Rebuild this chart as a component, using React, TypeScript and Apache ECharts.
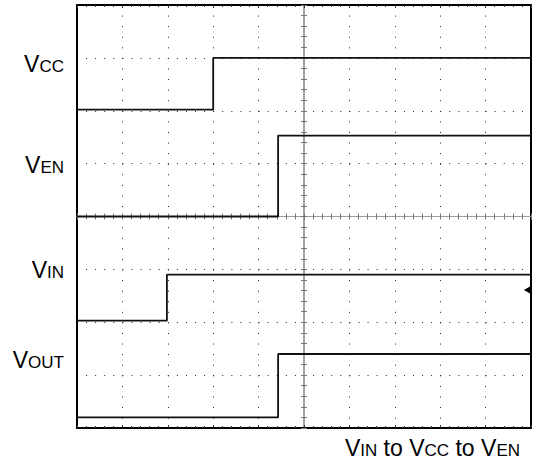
import React, { useEffect, useRef } from "react";
import * as echarts from "echarts";

// Oscilloscope graticule: 10 horizontal divisions (-5..5), 8 vertical divisions (-4..4)
const xMin = -5;
const xMax = 5;
const yMin = -4;
const yMax = 4;

// Trace break-points (x in divisions, y in divisions)
const vccX = [-5, -2.0, -2.0, 5];
const vccY = [2.02, 2.02, 3.0, 3.0];
const venX = [-5, -0.57, -0.57, 5];
const venY = [0.0, 0.0, 1.53, 1.53];
const vinX = [-5, -3.02, -3.02, 5];
const vinY = [-1.97, -1.97, -1.1, -1.1];
const voutX = [-5, -0.57, -0.57, 5];
const voutY = [-3.8, -3.8, -2.6, -2.6];

const markerPoint = [4.92, -1.39];

const traceNames = ["VCC", "VEN", "VIN", "VOUT"];

const pairs = (xs: number[], ys: number[]) => xs.map((x, i) => [x, ys[i]]);

const FONT = "Liberation Sans, Arial, sans-serif";
const BIG = 23;
const SMALL = 17;
const rich = {
  a: { fontSize: BIG, fontFamily: FONT, color: "#000", lineHeight: BIG, verticalAlign: "bottom" },
  b: { fontSize: SMALL, fontFamily: FONT, color: "#000", lineHeight: BIG, verticalAlign: "bottom" },
};

export default function App() {
  const ref = useRef<HTMLDivElement>(null);
  useEffect(() => {
    if (!ref.current) return;
    const chart = echarts.init(ref.current, undefined, { renderer: "svg" });

    const edgeX = (pos: string) => ({
      type: "value",
      min: xMin,
      max: xMax,
      interval: 1,
      position: pos,
      axisLine: { show: true, onZero: false, lineStyle: { color: "#000", width: 2 } },
      axisTick: { show: true, inside: true, length: 3, lineStyle: { color: "#333", width: 1 } },
      minorTick: { show: true, splitNumber: 5, length: 2, lineStyle: { color: "#333", width: 1 } },
      axisLabel: { show: false },
      splitLine: { show: false },
    });
    const edgeY = (pos: string) => ({
      type: "value",
      min: yMin,
      max: yMax,
      interval: 1,
      position: pos,
      axisLine: { show: true, onZero: false, lineStyle: { color: "#000", width: 2 } },
      axisTick: { show: false },
      axisLabel: { show: false },
      splitLine: { show: false },
    });
    const centerX = (inside: boolean) => ({
      type: "value",
      min: xMin,
      max: xMax,
      interval: 1,
      position: "bottom",
      axisLine: { show: true, onZero: true, onZeroAxisIndex: 0, lineStyle: { color: "#999", width: 1, type: [2, 1] } },
      axisTick: { show: true, inside, length: 3, lineStyle: { color: "#777", width: 1 } },
      minorTick: { show: true, splitNumber: 5, length: 3, lineStyle: { color: "#777", width: 1 } },
      axisLabel: { show: false },
      splitLine: { show: false },
    });
    const centerY = (inside: boolean) => ({
      type: "value",
      min: yMin,
      max: yMax,
      interval: 1,
      position: "left",
      axisLine: { show: true, onZero: true, onZeroAxisIndex: 0, lineStyle: { color: "#999", width: 1.5, type: [2, 1] } },
      axisTick: { show: true, inside, length: 3, lineStyle: { color: "#777", width: 1 } },
      minorTick: { show: true, splitNumber: 5, length: 3, lineStyle: { color: "#777", width: 1 } },
      axisLabel: { show: false },
      splitLine: { show: false },
    });

    const xs: any[] = [edgeX("bottom"), edgeX("top"), centerX(true), centerX(false)];
    xs[0].splitLine = { show: true, lineStyle: { color: "#222", width: 1, type: [1, 9.58] } };
    const ys: any[] = [edgeY("left"), edgeY("right"), centerY(true), centerY(false)];
    ys[0].splitLine = { show: true, lineStyle: { color: "#222", width: 1, type: [1, 8.08] } };

    const traces = [pairs(vccX, vccY), pairs(venX, venY), pairs(vinX, vinY), pairs(voutX, voutY)];

    const series: any[] = traces.map((d, i) => ({
      name: traceNames[i],
      type: "line",
      data: d,
      symbol: "none",
      lineStyle: { color: "#111", width: 1.8 },
      z: 5,
    }));
    series[2].markPoint = {
      symbol: "triangle",
      symbolRotate: 90,
      symbolSize: [8, 7],
      itemStyle: { color: "#000" },
      label: { show: false },
      data: [{ coord: markerPoint }],
    };

    const label = (parts: string, x: number, y: number, align: string) => ({
      type: "text",
      x,
      y,
      style: { text: parts, rich, align, verticalAlign: "bottom", fill: "#000" },
    });

    chart.setOption({
      animation: false,
      backgroundColor: "#fff",
      grid: { left: 77, right: 3, top: 5, bottom: 38 },
      xAxis: xs,
      yAxis: ys,
      series,
      graphic: [
        label("{a|V}{b|CC}", 64, 75, "right"),
        label("{a|V}{b|EN}", 64, 176, "right"),
        label("{a|V}{b|IN}", 64, 281, "right"),
        label("{a|V}{b|OUT}", 64, 371, "right"),
        label("{a|V}{b|IN}{a| to V}{b|CC}{a| to V}{b|EN}", 520, 459, "right"),
      ],
    });
    return () => chart.dispose();
  }, []);
  return (
    <div
      ref={ref}
      style={{ position: "fixed", left: 0, top: 0, width: 534, height: 466, background: "#fff" }}
    />
  );
}
